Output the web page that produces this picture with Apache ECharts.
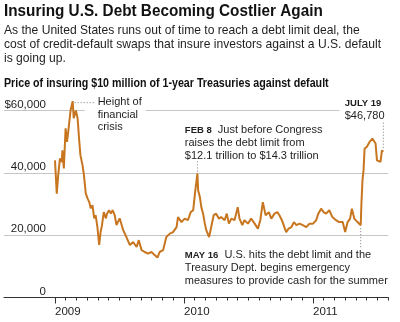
<!DOCTYPE html>
<html>
<head>
<meta charset="utf-8">
<script src="https://cdn.jsdelivr.net/npm/echarts@6/dist/echarts.min.js"></script>
<style>
  html, body { margin: 0; padding: 0; background: #fff; }
  #chart { width: 400px; height: 322px; }
</style>
</head>
<body>
<div id="chart"></div>
<script>
// Cost of insuring $10 million of 1-year Treasuries (dollars), sampled dates
const dates = [
  '2009-01-01','2009-01-06','2009-01-10','2009-01-15','2009-01-20','2009-01-22','2009-01-26','2009-01-31',
  '2009-02-04','2009-02-09','2009-02-14','2009-02-20','2009-02-23','2009-03-01','2009-03-06','2009-03-10',
  '2009-03-14','2009-03-20','2009-03-24','2009-03-29','2009-04-03','2009-04-08','2009-04-12','2009-04-17',
  '2009-04-22','2009-04-26','2009-05-01','2009-05-06','2009-05-10','2009-05-14','2009-05-19','2009-05-25',
  '2009-05-28','2009-06-03','2009-06-08','2009-06-13','2009-06-19','2009-06-24','2009-06-28','2009-07-03',
  '2009-07-13','2009-07-22','2009-08-01','2009-08-10','2009-08-20','2009-08-26','2009-09-03','2009-09-12',
  '2009-09-21','2009-10-01','2009-10-10','2009-10-18','2009-10-24','2009-11-03','2009-11-12','2009-11-22',
  '2009-12-01','2009-12-11','2009-12-15','2009-12-25','2010-01-03','2010-01-12','2010-01-20','2010-01-27',
  '2010-02-01','2010-02-08','2010-02-10','2010-02-15','2010-02-19','2010-02-24','2010-03-01','2010-03-05',
  '2010-03-13','2010-03-19','2010-03-26','2010-04-02','2010-04-10','2010-04-16','2010-04-26','2010-05-02',
  '2010-05-08','2010-05-15','2010-05-24','2010-06-02','2010-06-07','2010-06-15','2010-06-21','2010-07-01',
  '2010-07-10','2010-07-20','2010-07-29','2010-08-05','2010-08-12','2010-08-20','2010-08-29','2010-09-05',
  '2010-09-14','2010-09-22','2010-09-28','2010-10-05','2010-10-12','2010-10-17','2010-10-24','2010-11-01',
  '2010-11-08','2010-11-15','2010-11-24','2010-12-03','2010-12-13','2010-12-22','2011-01-01','2011-01-10',
  '2011-01-16','2011-01-24','2011-01-31','2011-02-07','2011-02-16','2011-02-25','2011-03-07','2011-03-16',
  '2011-03-26','2011-04-02','2011-04-09','2011-04-16','2011-04-21','2011-04-28','2011-05-07','2011-05-16',
  '2011-05-18','2011-05-21','2011-05-24','2011-05-27','2011-06-02','2011-06-10','2011-06-18','2011-06-23',
  '2011-06-27','2011-07-01','2011-07-06','2011-07-11','2011-07-15','2011-07-19'
];
const prices = [
  44000,33300,39200,44600,43500,47200,41400,54300,
  49900,54700,60000,63000,57500,60000,57500,51100,
  45600,42400,39200,33400,31800,30600,28600,29600,
  25400,26400,22600,16900,21000,23200,27400,25400,
  26900,28000,26900,28000,26400,23200,22600,25400,
  21600,19400,16800,17800,16200,18400,15200,14600,
  14100,14600,13600,12800,14600,15200,19400,20500,
  21000,22600,25800,24200,25300,24800,27400,28000,
  33300,39800,34400,32200,29000,26900,23700,21600,
  19400,22600,26400,26900,25300,25800,24800,26900,
  23700,25300,24800,29000,25300,23200,24800,23700,
  25300,23700,22100,24800,30600,26400,27400,25300,
  26900,27400,26400,24800,22600,21000,22100,22600,
  24200,23200,23700,23200,22600,23700,23700,24800,
  26900,28500,27400,26900,28000,25800,24800,24200,
  24200,21000,24200,25300,28500,25300,24200,23200,
  30100,37600,40800,47800,48300,49900,51000,51500,
  49400,44000,44500,43500,47200,46780
];
const yearLabels = [2009, 2010, 2011];
const valueTicks = [0, 20000, 40000, 60000];

const FONT = "'Liberation Sans', Arial, Helvetica, sans-serif";
const INK = '#1e1e1e';

// date string -> fractional year, so the x axis can carry month ticks
function decYear(s) {
  const [y, m, d] = s.split('-').map(Number);
  const a = Date.UTC(y, 0, 1), b = Date.UTC(y + 1, 0, 1);
  return y + (Date.UTC(y, m - 1, d) - a) / (b - a);
}
const monthTicks = [];
for (let k = 0; k <= 31; k++) monthTicks.push(2009 + k / 12);
const points = dates.map((d, i) => [decYear(d), prices[i]]);

const X_MIN = 2008.6047, X_MAX = 2011 + 7 / 12;

const chart = echarts.init(document.getElementById('chart'), null, { renderer: 'canvas' });
chart.setOption({
  animation: false,
  grid: { left: 4, right: 11.75, top: 110.5, bottom: 24.5 },
  xAxis: [
    {
      type: 'value', min: X_MIN, max: X_MAX, position: 'bottom',
      axisLine: { show: true, onZero: false, lineStyle: { color: '#333', width: 1 } },
      axisTick: { show: true, customValues: monthTicks, length: 3, lineStyle: { color: '#333' } },
      axisLabel: {
        customValues: yearLabels, formatter: v => String(Math.round(v)),
        align: 'left', margin: 8, fontFamily: FONT, fontSize: 11.5, color: INK
      },
      splitLine: { show: false }
    },
    {
      type: 'value', min: X_MIN, max: X_MAX, position: 'bottom',
      axisLine: { show: false },
      axisTick: { show: true, customValues: yearLabels, length: 6, lineStyle: { color: '#333' } },
      axisLabel: { show: false },
      splitLine: { show: false }
    }
  ],
  yAxis: {
    type: 'value', min: valueTicks[0], max: valueTicks[valueTicks.length - 1], interval: 20000,
    axisLine: { show: false }, axisTick: { show: false },
    splitLine: { show: true, lineStyle: { color: '#c6c6c6', width: 1 } },
    axisLabel: {
      margin: -42, align: 'right', verticalAlign: 'bottom',
      fontFamily: FONT, fontSize: 11.5, color: INK,
      formatter: v => (v === 60000 ? '$' : '') + v.toLocaleString('en-US')
    }
  },
  series: [{
    type: 'line', data: points, symbol: 'none', showSymbol: false, clip: false, z: 2,
    lineStyle: { color: '#c7761f', width: 2 }
  }]
});

// annotations anchored to data points through the chart's own scales
const toPx = (d, v) => chart.convertToPixel({ seriesIndex: 0 }, [decYear(d), v]);
const y60 = chart.convertToPixel({ yAxisIndex: 0 }, 60000);
const gridRight = chart.convertToPixel({ xAxisIndex: 0 }, X_MAX);

const peakIdx = prices.indexOf(Math.max(...prices));
const [pkx, pky] = toPx(dates[peakIdx], prices[peakIdx]);
const febIdx = dates.indexOf('2010-02-08');
const [fx, fy] = toPx(dates[febIdx], prices[febIdx]);
const mayIdx = dates.indexOf('2011-05-16');
const [mx, my] = toPx(dates[mayIdx], prices[mayIdx]);
const lastIdx = dates.length - 1;
const [jx, jy] = toPx(dates[lastIdx], prices[lastIdx]);

const dotted = { stroke: '#7a7a7a', lineWidth: 1, lineDash: [1, 2] };
const noteStyle = (text, extra) => Object.assign({
  text, fontFamily: FONT, fontSize: 11, fill: INK, lineHeight: 13, verticalAlign: 'top',
  rich: {
    b: { fontFamily: FONT, fontSize: 9.5, fontWeight: 'bold', fill: INK, lineHeight: 13, verticalAlign: 'bottom' },
    n: { fontFamily: FONT, fontSize: 11, fill: INK, lineHeight: 13, verticalAlign: 'bottom' }
  }
}, extra || {});
const noteLeft = fx - 12.6;

chart.setOption({
  graphic: [
    // headline block
    { type: 'text', x: 4, y: 11, scaleX: 0.9, z: 5,
      style: { text: 'Insuring U.S. Debt Becoming Costlier Again', fontFamily: FONT, fontSize: 17,
               fontWeight: 'bold', fill: '#111', verticalAlign: 'middle' } },
    { type: 'text', x: 4, y: 23.2, z: 5,
      style: { text: 'As the United States runs out of time to reach a debt limit deal, the\n' +
                     'cost of credit-default swaps that insure investors against a U.S. default\n' +
                     'is going up.',
               fontFamily: FONT, fontSize: 12.1, lineHeight: 14.1, fill: INK, verticalAlign: 'top' } },
    { type: 'text', x: 4, y: 83.3, scaleX: 0.89, z: 5,
      style: { text: 'Price of insuring $10 million of 1-year Treasuries against default', fontFamily: FONT,
               fontSize: 12, fontWeight: 'bold', fill: '#111', verticalAlign: 'middle' } },

    // breaks in the top gridline behind the notes
    { type: 'rect', z: 1, shape: { x: pkx + 12, y: y60 - 2, width: 61, height: 4 }, style: { fill: '#fff' } },
    { type: 'rect', z: 1, shape: { x: jx - 44, y: y60 - 2, width: gridRight - jx + 46, height: 4 }, style: { fill: '#fff' } },

    // height of the financial crisis
    { type: 'line', z: 3, shape: { x1: pkx + 2, y1: pky + 1.5, x2: pkx + 21, y2: pky + 1.5 }, style: dotted },
    { type: 'text', z: 3, x: pkx + 25, y: pky - 5.5,
      style: noteStyle('Height of\nfinancial\ncrisis', { lineHeight: 12.7, rich: undefined }) },

    // Feb 8, 2010
    { type: 'line', z: 3, shape: { x1: fx, y1: fy - 12, x2: fx, y2: fy - 2 }, style: dotted },
    { type: 'text', z: 3, x: noteLeft, y: 122,
      style: noteStyle('{b|FEB 8}{n|  Just before Congress}\n{n|raises the debt limit from}\n{n|$12.1 trillion to $14.3 trillion}') },

    // May 16, 2011
    { type: 'line', z: 3, shape: { x1: mx, y1: my + 3, x2: mx, y2: my + 22 }, style: dotted },
    { type: 'text', z: 3, x: noteLeft, y: 247,
      style: noteStyle('{b|MAY 16}{n|  U.S. hits the debt limit and the}\n{n|Treasury Dept. begins emergency}\n{n|measures to provide cash for the summer}') },

    // latest value
    { type: 'line', z: 3, shape: { x1: jx, y1: jy - 29, x2: jx, y2: jy - 4 }, style: dotted },
    { type: 'text', z: 3, x: jx - 38.6, y: 95,
      style: noteStyle('{b|JULY 19}\n{n|$' + prices[lastIdx].toLocaleString('en-US') + '}', { lineHeight: 12.5 }) }
  ]
});
</script>
</body>
</html>
